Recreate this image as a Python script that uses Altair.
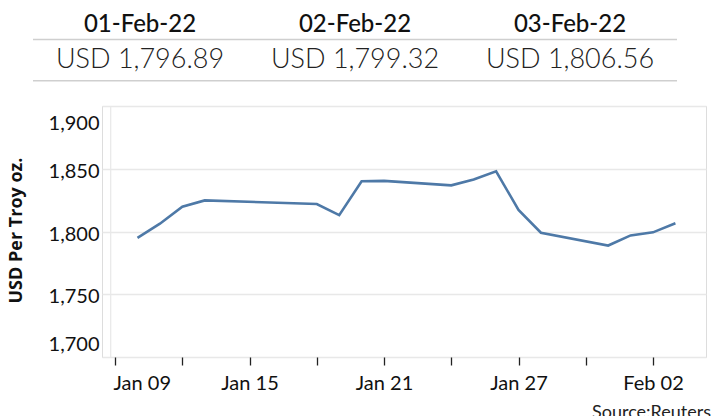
import altair as alt
import pandas as pd

# ---- data ----
dates = ["2022-01-10", "2022-01-11", "2022-01-12", "2022-01-13", "2022-01-18",
         "2022-01-19", "2022-01-20", "2022-01-21", "2022-01-24", "2022-01-25",
         "2022-01-26", "2022-01-27", "2022-01-28", "2022-01-31", "2022-02-01",
         "2022-02-02", "2022-02-03"]
prices = [1795.0, 1806.2, 1819.8, 1824.8, 1821.9,
          1813.0, 1840.0, 1840.3, 1836.8, 1841.5,
          1848.0, 1817.2, 1799.0, 1788.8, 1796.89,
          1799.32, 1806.56]

header_dates = ["01-Feb-22", "02-Feb-22", "03-Feb-22"]
header_values = ["USD 1,796.89", "USD 1,799.32", "USD 1,806.56"]

tick_days = [(2022, 1, 9), (2022, 1, 12), (2022, 1, 15), (2022, 1, 18), (2022, 1, 21),
             (2022, 1, 24), (2022, 1, 27), (2022, 1, 30), (2022, 2, 2)]
y_ticks = [1700, 1750, 1800, 1850, 1900]
source_text = ["Source:Reuters"]

FONT = "Lato"

df = pd.DataFrame({"date": [d + "T00:00:00" for d in dates], "price": prices})
hdr = pd.DataFrame({"col": header_dates, "label": header_dates, "value": header_values})
src = pd.DataFrame({"t": source_text})

W, H = 604, 251

line = alt.Chart(df).mark_line(color="#4e79a7", strokeWidth=2.6).encode(
    x=alt.X(
        "date:T",
        scale=alt.Scale(domain=[alt.DateTime(year=2022, month=1, date=8, hours=10),
                                alt.DateTime(year=2022, month=2, date=4, hours=8, minutes=45)]),
        axis=alt.Axis(
            title=None,
            values=[alt.DateTime(year=y, month=m, date=d) for (y, m, d) in tick_days],
            labelExpr="round((datum.value - datetime(2022,0,9)) / 86400000) % 6 == 0 ? timeFormat(datum.value, '%b %d') : ''",
            grid=False, domain=False,
            ticks=True, tickSize=8, tickWidth=1.3, tickColor="#222",
            labelFont=FONT, labelFontSize=20, labelColor="#111",
            labelPadding=8, labelFlush=15, labelFlushOffset=2,
        ),
    ),
    y=alt.Y(
        "price:Q",
        scale=alt.Scale(domain=[1700, 1900], nice=False, zero=False),
        axis=alt.Axis(
            title="USD Per Troy oz.", titleFont="Open Sans", titleFontSize=18, titleFontWeight="bold",
            titleColor="#111", titleX=-77, titleY=124,
            values=y_ticks, format=",d",
            grid=True, gridColor="#e8e8e8", gridWidth=1.3,
            domain=False, ticks=False,
            labelFont=FONT, labelFontSize=20, labelColor="#111",
            labelPadding=3, labelFlush=True, labelFlushOffset=-5, labelOffset=2.5,
        ),
    ),
)

yline = alt.Chart(src).mark_rule(color="#e8e8e8", strokeWidth=1.2).encode(
    x=alt.value(8.7), y=alt.value(0), y2=alt.value(H)
)

hx = alt.X("col:N", scale=alt.Scale(type="point", domain=header_dates, range=[38, 468], padding=0), axis=None)

date_text = alt.Chart(hdr).mark_text(
    font=FONT, fontSize=24, fontWeight=500, baseline="alphabetic", align="center", color="#111"
).encode(x=hx, y=alt.value(-74), text="label:N")

value_text = alt.Chart(hdr).mark_text(
    font=FONT, fontSize=27, fontWeight=300, baseline="alphabetic", align="center", color="#222"
).encode(x=hx, y=alt.value(-38), text="value:N")

rule1 = alt.Chart(src).mark_rule(color="#cfcfcf", strokeWidth=1.5).encode(
    x=alt.value(-69), x2=alt.value(575), y=alt.value(-66.5)
)
rule2 = alt.Chart(src).mark_rule(color="#cfcfcf", strokeWidth=1.5).encode(
    x=alt.value(-69), x2=alt.value(575), y=alt.value(-25.3)
)

source = alt.Chart(src).mark_text(
    font=FONT, fontSize=18, baseline="top", align="left", color="#222"
).encode(x=alt.value(490), y=alt.value(297.5), text="t:N")

chart = alt.layer(yline, line, date_text, value_text, rule1, rule2, source).resolve_scale(
    x="independent"
).properties(
    width=W, height=H,
    padding={"left": 102, "top": 106, "right": 17, "bottom": 59},
    autosize=alt.AutoSizeParams(type="none"),
).configure_view(stroke=None).configure(background="white")

chart.save("out.html", embed_options={"renderer": "svg", "actions": False})
